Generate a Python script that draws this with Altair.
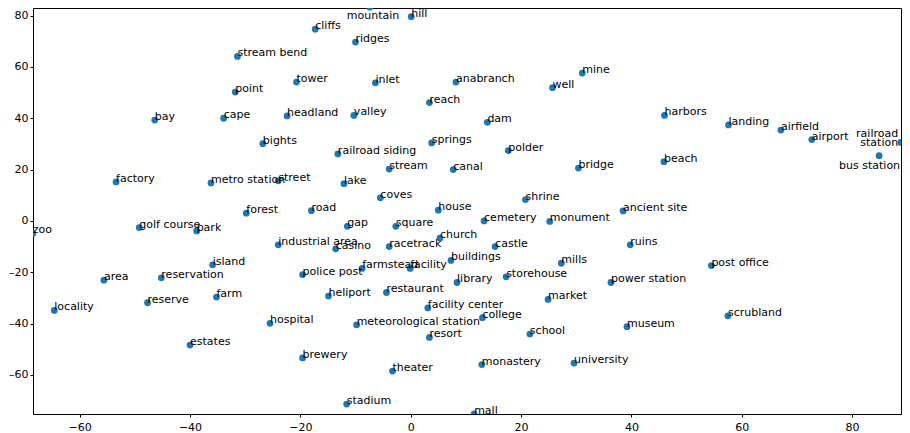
import altair as alt
import pandas as pd

names = [
    "stream bend", "point", "tower", "bay", "cape", "headland", "bights",
    "mountain", "cliffs", "hill", "ridges", "inlet", "anabranch", "well", "mine",
    "reach", "valley", "dam", "springs", "harbors", "landing", "airfield", "airport",
    "railroad station", "bus station", "beach", "ancient site", "ruins", "post office",
    "power station", "factory", "metro station", "street", "forest", "zoo",
    "golf course", "park", "industrial area", "island", "area", "reservation",
    "police post", "railroad siding", "polder", "stream", "canal", "bridge", "lake",
    "coves", "shrine", "road", "house", "cemetery", "monument", "gap", "square",
    "church", "casino", "racetrack", "castle", "buildings", "mills", "farmstead",
    "facility", "storehouse", "library", "heliport", "restaurant", "market",
    "facility center", "college", "meteorological station", "resort", "school",
    "brewery", "monastery", "university", "theater", "stadium", "mall", "locality",
    "reserve", "farm", "hospital", "estates", "scrubland", "museum",
]
xs = [
    -31.4, -31.8, -20.7, -46.4, -33.9, -22.4, -26.8,
    -7.4, -17.3, 0.1, -10.0, -6.4, 8.2, 25.7, 31.1,
    3.4, -10.3, 13.9, 3.8, 46.0, 57.6, 67.1, 72.7,
    88.85, 84.9, 45.9, 38.5, 39.8, 54.5,
    36.3, -53.4, -36.2, -24.0, -29.8, -68.5,
    -49.2, -38.8, -24.0, -35.9, -55.6, -45.2,
    -19.6, -13.2, 17.7, -3.9, 7.7, 30.4, -12.1,
    -5.5, 20.8, -18.0, 5.0, 13.3, 25.2, -11.5, -2.7,
    5.3, -13.6, -3.9, 15.3, 7.3, 27.3, -8.8,
    -0.1, 17.3, 8.4, -14.9, -4.4, 24.9,
    3.1, 13.0, -9.8, 3.4, 21.6,
    -19.6, 12.9, 29.6, -3.3, -11.6, 11.5, -64.6,
    -47.7, -35.2, -25.5, -40.0, 57.5, 39.2,
]
ys = [
    64.1, 50.2, 54.1, 39.3, 40.0, 40.9, 30.1,
    83.3, 74.7, 79.6, 69.7, 53.8, 54.1, 51.9, 57.6,
    46.1, 41.1, 38.4, 30.4, 41.1, 37.4, 35.4, 31.7,
    30.6, 25.4, 23.1, 3.9, -9.3, -17.4,
    -24.0, 15.2, 14.8, 15.6, 3.0, -4.9,
    -2.6, -3.9, -9.3, -17.1, -23.1, -22.2,
    -20.9, 26.1, 27.4, 20.2, 20.0, 20.6, 14.5,
    9.0, 8.3, 4.0, 4.2, 0.0, -0.2, -2.1, -2.1,
    -6.7, -10.9, -10.0, -10.0, -15.4, -16.5, -18.5,
    -18.5, -21.8, -24.0, -29.3, -27.9, -30.6,
    -33.9, -37.7, -40.5, -45.4, -44.1,
    -53.4, -56.0, -55.4, -58.5, -71.4, -75.2, -34.9,
    -31.9, -29.7, -39.9, -48.4, -37.0, -41.2,
]
tick_values = [-60, -40, -20, 0, 20, 40, 60, 80]

df = pd.DataFrame({"name": names, "x": xs, "y": ys})

X_DOMAIN = [-68.46, 88.87]
Y_DOMAIN = [-75.25, 82.97]

base = alt.Chart(df).encode(
    x=alt.X("x:Q", scale=alt.Scale(domain=X_DOMAIN, nice=False, zero=False),
            axis=alt.Axis(values=tick_values, title=None, labelPadding=4.5)),
    y=alt.Y("y:Q", scale=alt.Scale(domain=Y_DOMAIN, nice=False, zero=False),
            axis=alt.Axis(values=tick_values, title=None, labelPadding=2,
                          labelExpr="replace(replace(datum.label, '\u2212', '\u2013'), '-', '\u2013')")),
)

points = base.mark_circle(size=46, opacity=1, color="#1f77b4", clip=True)

text_style = dict(fontSize=11, font="DejaVu Sans", color="black")

labels = base.transform_filter(
    "indexof(['mountain', 'railroad station', 'bus station'], datum.name) < 0"
).mark_text(align="left", baseline="alphabetic", **text_style).encode(text="name:N")

mountain_lbl = base.transform_filter("datum.name == 'mountain'").mark_text(
    align="left", baseline="alphabetic", dx=-23, dy=11.6, **text_style
).encode(text="name:N")

rail_lbl = base.transform_filter("datum.name == 'railroad station'").mark_text(
    align="right", baseline="top", dx=-2.7, dy=-14.6, lineBreak=" ", lineHeight=9,
    **text_style
).encode(text="name:N")

bus_lbl = base.transform_filter("datum.name == 'bus station'").mark_text(
    align="right", baseline="alphabetic", dx=21, dy=13.6, **text_style
).encode(text="name:N")

chart = alt.layer(points, labels, mountain_lbl, rail_lbl, bus_lbl).properties(
    width=868, height=406,
    autosize=alt.AutoSizeParams(type="none"),
    padding={"left": 25, "top": 0, "right": 1, "bottom": 22},
).configure_view(
    stroke="black", strokeWidth=1
).configure_axis(
    domain=False, grid=False, ticks=True, tickColor="black", tickSize=3,
    tickWidth=1, labelFont="DejaVu Sans", labelFontSize=11, labelColor="black",
)

chart.save("out.html", embed_options={"renderer": "svg", "actions": False})
